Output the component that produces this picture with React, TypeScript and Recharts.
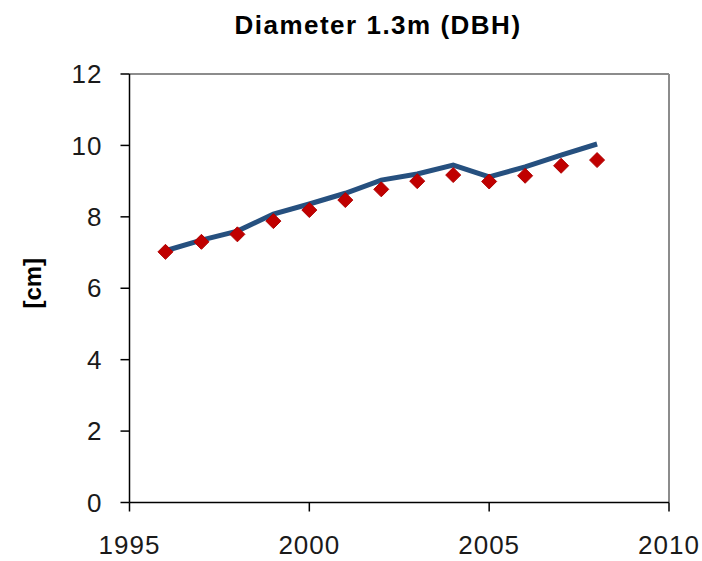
// DBH growth chart: modelled diameter (line) vs measured diameter (diamonds)
import React from "react";
import {
  ComposedChart,
  Line,
  XAxis,
  YAxis,
  ReferenceLine,
} from "recharts";

const years = [1996, 1997, 1998, 1999, 2000, 2001, 2002, 2003, 2004, 2005, 2006, 2007, 2008];
const modelled = [7.05, 7.35, 7.6, 8.08, 8.36, 8.66, 9.03, 9.2, 9.45, 9.12, 9.4, 9.73, 10.04];
const measured = [7.02, 7.3, 7.51, 7.88, 8.19, 8.47, 8.77, 9.0, 9.17, 8.99, 9.15, 9.43, 9.59];

const xTicks = [1995, 2000, 2005, 2010];
const yTicks = [0, 2, 4, 6, 8, 10, 12];

const FONT = "Arial, 'Liberation Sans', sans-serif";

const chartData = years.map((year, i) => ({
  year,
  modelled: modelled[i],
  measured: measured[i],
}));

// red diamond marker (square turned 45deg)
const Diamond = (props: any) => {
  const { cx, cy, index } = props;
  if (cx == null || cy == null) return null;
  const r = 7.5;
  return (
    <path
      key={`d-${index}`}
      d={`M${cx},${cy - r}L${cx + r},${cy}L${cx},${cy + r}L${cx - r},${cy}Z`}
      fill="#c00000"
      stroke="#b00000"
      strokeWidth={1}
    />
  );
};

const tickStyle = { fill: "#1a1a1a", fontSize: 26, fontFamily: FONT, letterSpacing: 1 };

export default function App() {
  return (
    <div style={{ position: "absolute", left: 0, top: 0, width: 702, height: 561, background: "#fff" }}>
      <svg width={702} height={50} style={{ position: "absolute", left: 0, top: 0 }}>
        <text
          x={378}
          y={34}
          textAnchor="middle"
          fontFamily={FONT}
          fontWeight="bold"
          fontSize={26}
          letterSpacing={1.5}
          fill="#000"
        >
          Diameter 1.3m (DBH)
        </text>
      </svg>
      <ComposedChart
        width={702}
        height={561}
        data={chartData}
        margin={{ top: 74, right: 33, bottom: 0, left: 0 }}
      >
        <XAxis
          dataKey="year"
          type="number"
          domain={[1995, 2010]}
          ticks={xTicks}
          interval={0}
          allowDataOverflow
          height={58.5}
          tickSize={9}
          tickMargin={24}
          axisLine={{ stroke: "#000", strokeWidth: 1.5 }}
          tickLine={{ stroke: "#000", strokeWidth: 1.5 }}
          tick={tickStyle}
        />
        <YAxis
          type="number"
          domain={[0, 12]}
          ticks={yTicks}
          interval={0}
          width={129.5}
          tickSize={9}
          tickMargin={18}
          axisLine={{ stroke: "#000", strokeWidth: 1.5 }}
          tickLine={{ stroke: "#000", strokeWidth: 1.5 }}
          tick={tickStyle}
          label={{
            value: "[cm]",
            angle: -90,
            position: "center",
            dx: -32,
            dy: -5,
            style: { fill: "#000", fontSize: 24, fontWeight: "bold", fontFamily: FONT },
          }}
        />
        {/* plot area border on top and right */}
        <ReferenceLine y={12} stroke="#8c8c8c" strokeWidth={2} />
        <ReferenceLine x={2010} stroke="#8c8c8c" strokeWidth={2} />
        <Line
          dataKey="modelled"
          type="linear"
          stroke="#26507f"
          strokeWidth={5}
          dot={false}
          activeDot={false}
          isAnimationActive={false}
        />
        <Line
          dataKey="measured"
          type="linear"
          stroke="none"
          dot={<Diamond />}
          activeDot={false}
          isAnimationActive={false}
        />
      </ComposedChart>
    </div>
  );
}
